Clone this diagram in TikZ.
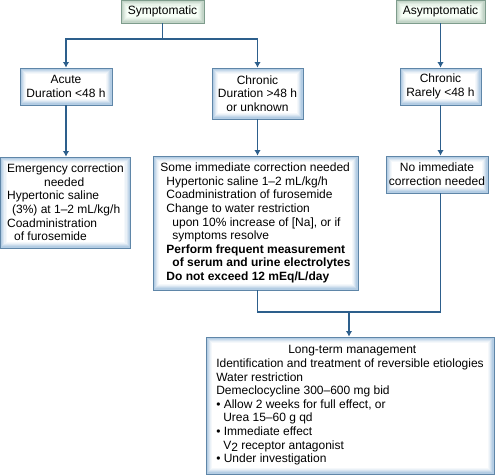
\documentclass[tikz,border=0pt]{standalone}
\usepackage{fontspec}
\setmainfont{Liberation Sans}
\usetikzlibrary{arrows.meta}
\definecolor{bordercol}{HTML}{5F86A8}
\definecolor{glowblue}{HTML}{B4CDE4}
\definecolor{topborder}{HTML}{7E9C8C}
\definecolor{glowgreen}{HTML}{C3D5C8}
\definecolor{linkcol}{HTML}{2D5F8C}
\begin{document}
\begin{tikzpicture}[x=1pt,y=1pt,
  glow/.style={path picture={
    \foreach \d/\o in {0.9/1,2.1/0.75,3.3/0.5,4.5/0.28,5.7/0.12}{
      \draw[#1, opacity=\o, line width=1.3pt]
        ([shift={(\d pt,\d pt)}]path picture bounding box.south west) rectangle
        ([shift={(-\d pt,-\d pt)}]path picture bounding box.north east);
    }}},
  box/.style={draw=bordercol, line width=0.9pt, fill=white, glow=glowblue,
    inner sep=0pt, font=\fontsize{12}{13.6}\selectfont, text=black},
  topbox/.style={draw=topborder, line width=0.9pt, fill=green!3!white, glow=glowgreen,
    inner sep=0pt, font=\fontsize{12}{13.6}\selectfont, text=black},
  link/.style={draw=linkcol, line width=1.9pt},
  arr/.style={link, -{Latex[length=5.5pt,width=6.5pt]}}
]
\useasboundingbox (0,0) rectangle (496,-475);

\node[topbox, minimum width=83pt, minimum height=22.5pt] (sym) at (162.5,-11.75) {Symptomatic};
\node[topbox, minimum width=89pt, minimum height=22.5pt] (asym) at (440.5,-11.75) {Asymptomatic};

\node[box, minimum width=92pt, minimum height=37pt, align=center] (acute) at (66,-86.5)
  {Acute\\Duration <48 h};
\node[box, minimum width=91pt, minimum height=51pt, align=center] (chron) at (257.5,-93.5)
  {Chronic\\Duration >48 h\\or unknown};
\node[box, minimum width=81pt, minimum height=37pt, align=center] (rare) at (440.5,-86.5)
  {Chronic\\Rarely <48 h};

\node[box, minimum width=130pt, minimum height=91pt, align=left] (emerg) at (65.5,-202.5)
  {Emergency correction\\
   \hspace*{37pt}needed\\
   Hypertonic saline\\
   \hspace*{5pt}(3\%) at 1–2 mL/kg/h\\
   Coadministration\\
   \hspace*{7pt}of furosemide};

\node[box, minimum width=205pt, minimum height=134pt, align=left] (detail) at (255.5,-223)
  {Some immediate correction needed\\
   \hspace*{6pt}Hypertonic saline 1–2 mL/kg/h\\
   \hspace*{6pt}Coadministration of furosemide\\
   \hspace*{6pt}Change to water restriction\\
   \hspace*{12pt}upon 10\% increase of [Na], or if\\
   \hspace*{12pt}symptoms resolve\\
   \hspace*{6pt}\textbf{Perform frequent measurement}\\
   \hspace*{12pt}\textbf{of serum and urine electrolytes}\\
   \hspace*{6pt}\textbf{Do not exceed 12 mEq/L/day}};

\node[box, minimum width=102pt, minimum height=37pt, align=center] (noimm) at (437,-174.5)
  {No immediate\\correction needed};

\node[box, minimum width=288pt, minimum height=137pt, align=left] (lt) at (350,-405.5)
  {\hspace*{72pt}Long-term management\\
   Identification and treatment of reversible etiologies\\
   Water restriction\\
   Demeclocycline 300–600 mg bid\\
   • Allow 2 weeks for full effect, or\\
   \hspace*{7pt}Urea 15–60 g qd\\
   • Immediate effect\\
   \hspace*{7pt}V\raisebox{-0.3ex}{2} receptor antagonist\\
   • Under investigation};

\coordinate (j1) at (162.5,-39);
\coordinate (j2) at (349,-312);

\draw[link] (sym.south) -- (j1);
\draw[arr] (j1) -| (acute.north);
\draw[arr] (j1) -| (chron.north);
\draw[arr] (asym.south) -- (rare.north);
\draw[arr] (acute.south) -- (emerg.north -| acute.south);
\draw[arr] (chron.south) -- (detail.north -| chron.south);
\draw[arr] (rare.south) -- (noimm.north -| rare.south);
\draw[link] (detail.south -| chron.south) |- (j2);
\draw[link] (noimm.south -| rare.south) |- (j2);
\draw[arr] (j2) -- (j2 |- lt.north);
\end{tikzpicture}
\end{document}
